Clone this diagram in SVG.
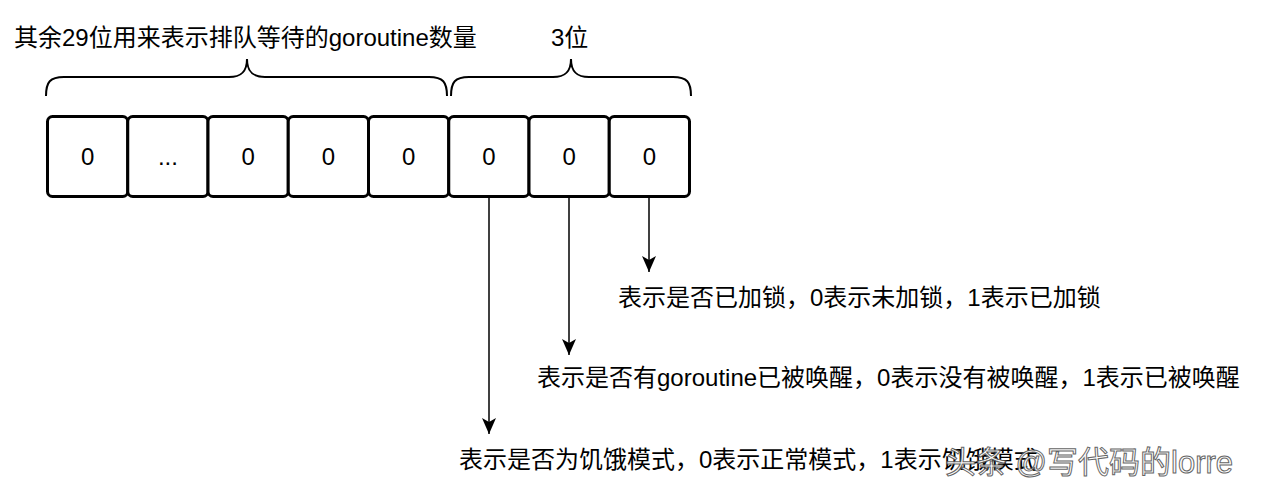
<svg xmlns="http://www.w3.org/2000/svg" width="1266" height="494" viewBox="0 0 1266 494">
<style>
.lbl{font-family:"Liberation Sans","Noto Sans CJK SC",Arial,sans-serif;font-size:24px;fill:#000}
.box{fill:#fff;stroke:#000;stroke-width:3}
.brace{fill:none;stroke:#000;stroke-width:2}
.conn{stroke:#000;stroke-width:1.5;fill:none}
.wm{font-family:"Liberation Sans","Noto Sans CJK SC",Arial,sans-serif;font-size:31px;fill:#fff;stroke:#555;stroke-width:1;opacity:0.9}
</style>
<defs>
<marker id="arr" markerWidth="18" markerHeight="16" refX="17" refY="8" orient="auto" markerUnits="userSpaceOnUse" viewBox="0 0 18 16">
<path d="M17,8 L1,1 L5,8 L1,15 Z" fill="#000"/>
</marker>
</defs>
<rect width="1266" height="494" fill="#fff"/>
<g id="title29"><text class="lbl" x="14" y="46">其余29位用来表示排队等待的goroutine数量</text></g>
<g id="title3"><text class="lbl" x="551" y="46">3位</text></g>
<g id="braces">
<path class="brace" d="M46,96 C46,82 50,77 64,77 L229,77 C241,77 247,72 247,59 C247,72 253,77 265,77 L429,77 C443,77 447,82 447,96"/>
<path class="brace" d="M451,96 C451,82 455,77 469,77 L553,77 C565,77 571,72 571,59 C571,72 577,77 589,77 L673,77 C687,77 691,82 691,96"/>
</g>
<g id="bit0"><rect class="box" x="47.5" y="116.5" width="80.25" height="80" rx="5"/><text class="lbl" x="87.6" y="165" text-anchor="middle">0</text></g>
<g id="bit1"><rect class="box" x="127.75" y="116.5" width="80.25" height="80" rx="5"/><text class="lbl" x="167.9" y="165" text-anchor="middle">...</text></g>
<g id="bit2"><rect class="box" x="208" y="116.5" width="80.25" height="80" rx="5"/><text class="lbl" x="248.1" y="165" text-anchor="middle">0</text></g>
<g id="bit3"><rect class="box" x="288.25" y="116.5" width="80.25" height="80" rx="5"/><text class="lbl" x="328.4" y="165" text-anchor="middle">0</text></g>
<g id="bit4"><rect class="box" x="368.5" y="116.5" width="80.25" height="80" rx="5"/><text class="lbl" x="408.6" y="165" text-anchor="middle">0</text></g>
<g id="bit5"><rect class="box" x="448.75" y="116.5" width="80.25" height="80" rx="5"/><text class="lbl" x="488.9" y="165" text-anchor="middle">0</text></g>
<g id="bit6"><rect class="box" x="529" y="116.5" width="80.25" height="80" rx="5"/><text class="lbl" x="569.1" y="165" text-anchor="middle">0</text></g>
<g id="bit7"><rect class="box" x="609.25" y="116.5" width="80.25" height="80" rx="5"/><text class="lbl" x="649.4" y="165" text-anchor="middle">0</text></g>
<g id="connectors">
<line class="conn" x1="489" y1="198" x2="489" y2="434" marker-end="url(#arr)"/>
<line class="conn" x1="569" y1="198" x2="569" y2="355" marker-end="url(#arr)"/>
<line class="conn" x1="649" y1="198" x2="649" y2="272" marker-end="url(#arr)"/>
</g>
<g id="desc-lock"><text class="lbl" x="618" y="306">表示是否已加锁，0表示未加锁，1表示已加锁</text></g>
<g id="desc-woken"><text class="lbl" x="537" y="386">表示是否有goroutine已被唤醒，0表示没有被唤醒，1表示已被唤醒</text></g>
<g id="desc-starving"><text class="lbl" x="459" y="468">表示是否为饥饿模式，0表示正常模式，1表示饥饿模式</text></g>
<g id="watermark"><text class="wm" x="945" y="473">头条 @写代码的lorre</text></g>
</svg>
